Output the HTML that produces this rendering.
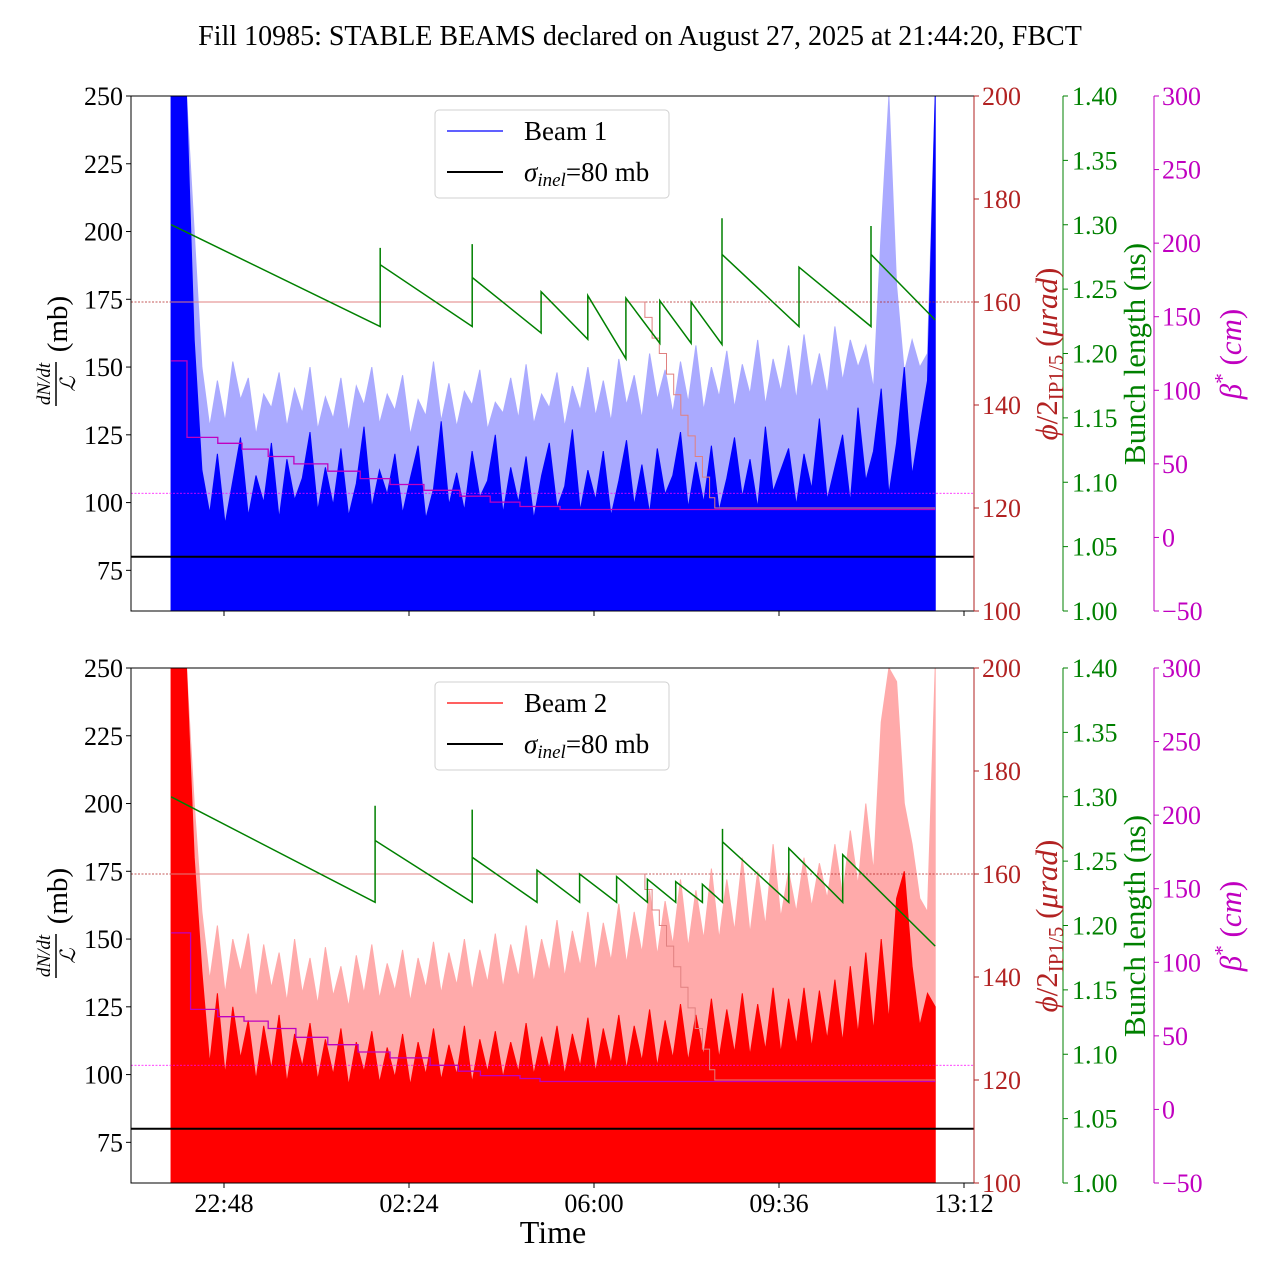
<!DOCTYPE html>
<html><head><meta charset="utf-8"><style>
html,body{margin:0;padding:0;background:#fff;}
svg{display:block;font-family:"Liberation Serif",serif;}
</style></head><body>
<svg id="chart" width="1280" height="1280" xmlns="http://www.w3.org/2000/svg">
<text x="640" y="45" text-anchor="middle" font-size="28">Fill 10985: STABLE BEAMS declared on August 27, 2025 at 21:44:20, FBCT</text>
<text x="553" y="1243" text-anchor="middle" font-size="32">Time</text>
</svg>
<script>
// ---- data ----
const tStart = 21.77, tEnd = 36.64;             // hours (past midnight of Aug 27)
const xTickLabels = ["22:48","02:24","06:00","09:36","13:12"];
const xTickHours = [22.8, 26.4, 30.0, 33.6, 37.2];
const leftTicks = [75,100,125,150,175,200,225,250];
const redTicks = [100,120,140,160,180,200];
const greenTicks = [1.00,1.05,1.10,1.15,1.20,1.25,1.30,1.35,1.40];
const magTicks = [-50,0,50,100,150,200,250,300];

const beam1Dark = [250,250,250,160,112,96,118,92,108,124,95,110,100,122,94,116,101,109,126,97,
 113,99,120,95,107,128,98,112,103,118,96,109,121,94,105,130,99,111,97,119,
 102,108,125,96,113,100,117,94,110,122,98,106,127,97,112,101,119,95,108,123,
 99,114,96,120,103,110,126,98,115,100,121,97,109,124,102,116,98,128,104,112,
 120,99,118,105,131,101,113,125,100,135,108,119,142,103,122,150,110,128,145,250];
const beam1Light = [250,250,250,200,150,128,145,130,152,138,146,125,140,135,148,128,142,133,150,127,
 139,131,146,126,143,136,150,129,140,134,147,125,138,132,152,130,144,128,141,136,
 149,127,137,133,146,131,151,129,140,135,148,128,143,134,150,132,145,130,153,136,
 147,131,155,138,149,133,152,137,158,134,150,139,156,135,151,140,160,136,153,141,
 158,138,162,142,155,140,165,145,160,150,158,142,200,250,180,148,160,150,155,250];
const beam2Dark = [250,250,250,180,138,104,130,100,125,106,120,98,118,102,122,97,115,103,119,98,
 113,100,117,96,112,101,116,97,110,99,115,96,112,100,117,98,111,100,118,97,
 113,101,116,99,112,101,119,100,114,102,118,100,115,103,121,101,117,104,122,102,
 118,105,124,103,120,106,126,105,122,107,128,106,124,108,130,107,126,109,132,108,
 128,111,132,110,131,113,135,112,140,115,145,116,150,120,165,175,140,118,130,125];
const beam2Light = [250,250,250,200,160,135,155,130,150,138,152,128,148,132,145,127,150,130,143,126,
 147,129,140,125,144,130,148,128,141,131,146,127,143,132,149,130,145,133,150,131,
 146,134,152,132,148,136,155,134,150,138,157,136,153,140,160,138,156,142,163,141,
 160,145,168,144,164,148,172,147,168,150,176,150,172,153,180,152,175,155,185,158,
 175,160,180,162,178,165,185,166,190,170,200,175,230,250,245,200,185,165,160,250];

// bunch length sawtooth: [time, value] vertices
const bl1Times = [21.77,25.84,25.84,25.84,27.63,27.63,27.63,28.97,28.97,29.88,29.88,30.62,30.62,31.28,31.28,31.89,31.89,32.49,32.49,32.49,33.99,33.99,35.39,35.39,35.39,36.64];
const bl1Vals  = [1.300,1.221,1.282,1.269,1.221,1.285,1.259,1.216,1.248,1.211,1.245,1.196,1.243,1.208,1.241,1.208,1.240,1.207,1.305,1.277,1.221,1.267,1.221,1.299,1.277,1.226];
const bl2Times = [21.77,25.74,25.74,25.74,27.63,27.63,27.63,28.89,28.89,29.72,29.72,30.44,30.44,31.04,31.04,31.59,31.59,32.11,32.11,32.50,32.50,32.50,33.79,33.79,34.84,34.84,36.64];
const bl2Vals  = [1.300,1.218,1.293,1.266,1.218,1.290,1.253,1.218,1.243,1.218,1.240,1.218,1.238,1.218,1.236,1.218,1.234,1.218,1.232,1.218,1.275,1.265,1.218,1.260,1.218,1.255,1.184];

// beta* steps (cm)
const beta1Times = [21.77,22.08,22.68,23.15,23.66,24.16,24.82,25.45,26.03,26.69,27.39,27.98,28.56,29.34];
const beta1Vals  = [120,68,64,60,55,50,45,40,36,32,28,24,21,19];
const beta2Times = [21.77,22.15,22.68,23.19,23.66,24.20,24.82,25.41,26.03,26.81,27.36,27.79,28.56,28.95];
const beta2Vals  = [120,68,63,60,55,49,44,39,35,30,26,23,21,19];
// crossing angle steps (urad)
const phiTimes = [21.77,30.99,31.13,31.27,31.41,31.55,31.69,31.83,31.97,32.11,32.25,32.35];
const phiVals  = [160,157,153,150,146,142,138,134,130,126,122,120];
const phiRef = 160, betaRef = 30, sigmaInel = 80;

// ---- drawing ----
const NS = "http://www.w3.org/2000/svg";
const svg = document.getElementById("chart");
const X0 = 131, X1 = 974;
const FS = 26;
function xs(h){ return 224 + (h - 22.8) * 185 / 3.6; }
function mk(tag, attrs, parent){ const e = document.createElementNS(NS, tag); for (const k in attrs) e.setAttribute(k, attrs[k]); (parent||svg).appendChild(e); return e; }

function drawPanel(top, dark, light, darkCol, lightCol, bl, blT, betaT, betaV, legendLabel, idx){
  const bot = top + 515;
  const yL = v => bot - (v - 60) * 515 / 190;
  const yR = v => bot - (v - 100) * 515 / 100;
  const yG = v => bot - (v - 1.0) * 515 / 0.4;
  const yM = v => bot - (v + 50) * 515 / 350;
  const g = mk("g", {});
  
  
  const cp = mk("clipPath", {id: "clip" + idx}, g);
  mk("rect", {x: X0, y: top, width: X1 - X0, height: 515}, cp);
  const plot = mk("g", {"clip-path": "url(#clip" + idx + ")"}, g);
  const n = dark.length, step = (tEnd - tStart) / (n - 1);
  function area(arr, col, name){
    let d = "M" + xs(tStart) + "," + bot;
    arr.forEach((v, i) => { d += " L" + xs(tStart + i * step).toFixed(1) + "," + yL(v).toFixed(1); });
    d += " L" + xs(tEnd) + "," + bot + " Z";
    const p = mk("path", {d: d, fill: col, stroke: col, "stroke-width": 1}, plot);
    
    
  }
  area(light, lightCol, 'beam-' + idx + '-raw-area');
  area(dark, darkCol, 'beam-' + idx + '-smoothed-area');
  const pr = mk("line", {x1: X0, x2: X1, y1: yR(phiRef), y2: yR(phiRef), stroke: "#b22222", "stroke-width": 0.8, "stroke-dasharray": "2,1.5"}, plot);
  
  
  const br = mk("line", {x1: X0, x2: X1, y1: yM(betaRef), y2: yM(betaRef), stroke: "#ff00ff", "stroke-width": 0.8, "stroke-dasharray": "2,1.5"}, plot);
  
  
  function steps(ts, vs, yf, col, name, w){
    let d = "";
    ts.forEach((t, i) => {
      const x = xs(t).toFixed(1), y = yf(vs[i]).toFixed(1);
      d += (i === 0 ? "M" + x + "," + y : " L" + x + "," + yf(vs[i-1]).toFixed(1) + " L" + x + "," + y);
    });
    d += " L" + xs(tEnd).toFixed(1) + "," + yf(vs[vs.length-1]).toFixed(1);
    const p = mk("path", {d: d, fill: "none", stroke: col, "stroke-width": w}, plot);
    
    
  }
  steps(phiTimes, phiVals, yR, "#e08080", 'crossing-angle-line', 1);
  steps(betaT, betaV, yM, "#c000c0", 'beta-star-line', 1.3);
  let d = "";
  blT.forEach((t, i) => { d += (i ? " L" : "M") + xs(t).toFixed(1) + "," + yG(bl[i]).toFixed(1); });
  const gl = mk("path", {d: d, fill: "none", stroke: "#008000", "stroke-width": 1.5}, plot);
  
  
  const sl = mk("line", {x1: X0, x2: X1, y1: yL(sigmaInel), y2: yL(sigmaInel), stroke: "#000", "stroke-width": 2}, plot);
  
  
  const fr = mk("rect", {x: X0, y: top, width: X1 - X0, height: 515, fill: "none", stroke: "#000", "stroke-width": 1}, g);
  
  
  leftTicks.forEach(v => {
    const y = yL(v);
    mk("line", {x1: X0 - 5, x2: X0, y1: y, y2: y, stroke: "#000"}, g);
    const t = mk("text", {x: X0 - 8, y: y + 9, "text-anchor": "end", "font-size": FS}, g);
    t.textContent = v;
    
    
  });
  mk("line", {x1: 1063, x2: 1063, y1: top, y2: bot, stroke: "#008000"}, g);
  mk("line", {x1: 1154, x2: 1154, y1: top, y2: bot, stroke: "#c000c0"}, g);
  mk("line", {x1: X1, x2: X1, y1: top, y2: bot, stroke: "#b22222"}, g);
  redTicks.forEach(v => {
    const y = yR(v);
    mk("line", {x1: X1, x2: X1 + 5, y1: y, y2: y, stroke: "#b22222"}, g);
    const t = mk("text", {x: X1 + 8, y: y + 9, "font-size": FS, fill: "#b22222"}, g);
    t.textContent = v;
    
    
  });
  greenTicks.forEach(v => {
    const y = yG(v);
    mk("line", {x1: 1063, x2: 1068, y1: y, y2: y, stroke: "#008000"}, g);
    const t = mk("text", {x: 1072, y: y + 9, "font-size": FS, fill: "#008000"}, g);
    t.textContent = v.toFixed(2);
    
    
  });
  magTicks.forEach(v => {
    const y = yM(v);
    mk("line", {x1: 1154, x2: 1159, y1: y, y2: y, stroke: "#c000c0"}, g);
    const t = mk("text", {x: 1162, y: y + 9, "font-size": FS, fill: "#c000c0"}, g);
    t.textContent = (v < 0 ? "\u2212" + (-v) : v);
    
    
  });
  xTickHours.forEach((h, i) => {
    const x = xs(h);
    mk("line", {x1: x, x2: x, y1: bot, y2: bot + 5, stroke: "#000"}, g);
    if (idx === 2) {
      const t = mk("text", {x: x, y: bot + 29, "text-anchor": "middle", "font-size": FS}, g);
      t.textContent = xTickLabels[i];
      
      
    }
  });
  const cy = top + 258;
  const ly = mk("g", {transform: "translate(58," + cy + ") rotate(-90)"}, g);
  
  
  const t1 = mk("text", {x: -30, y: -8, "text-anchor": "middle", "font-size": 19, "font-style": "italic"}, ly); t1.textContent = "dN/dt";
  mk("line", {x1: -52, x2: -8, y1: -2, y2: -2, stroke: "#000", "stroke-width": 1.5}, ly);
  const t2 = mk("text", {x: -30, y: 17, "text-anchor": "middle", "font-size": 21, "font-style": "italic"}, ly); t2.textContent = "\u2112";
  const t3 = mk("text", {x: 30, y: 9, "text-anchor": "middle", "font-size": 29}, ly); t3.textContent = "(mb)";
  const rl = mk("text", {transform: "translate(1057," + cy + ") rotate(-90)", "text-anchor": "middle", "font-size": 31, fill: "#b22222"}, g);
  rl.innerHTML = '<tspan font-style="italic">ϕ</tspan>/2<tspan font-size="21" dy="6">IP1/5</tspan><tspan dy="-6"> (</tspan><tspan font-style="italic">μrad</tspan>)';
  
  
  const gtl = mk("text", {transform: "translate(1145," + cy + ") rotate(-90)", "text-anchor": "middle", "font-size": 31, fill: "#008000"}, g);
  gtl.textContent = "Bunch length (ns)";
  
  
  const ml = mk("text", {transform: "translate(1241," + cy + ") rotate(-90)", "text-anchor": "middle", "font-size": 31, fill: "#c000c0"}, g);
  ml.innerHTML = '<tspan font-style="italic">β</tspan><tspan dy="-12" font-size="21">*</tspan><tspan dy="12"> (</tspan><tspan font-style="italic">cm</tspan>)';
  
  
  const lg = mk("g", {}, g);
  
  
  mk("rect", {x: 435, y: top + 14, width: 234, height: 88, rx: 4, fill: "#fff", "fill-opacity": 0.8, stroke: "#d0d0d0"}, lg);
  mk("line", {x1: 447, x2: 503, y1: top + 35, y2: top + 35, stroke: darkCol, "stroke-width": 1.2}, lg);
  const le1 = mk("text", {x: 524, y: top + 44, "font-size": 27}, lg); le1.textContent = legendLabel;
  
  
  mk("line", {x1: 447, x2: 503, y1: top + 76, y2: top + 76, stroke: "#000", "stroke-width": 2}, lg);
  const le2 = mk("text", {x: 524, y: top + 85, "font-size": 27}, lg);
  le2.innerHTML = '<tspan font-style="italic">σ</tspan><tspan font-style="italic" font-size="19" dy="5">inel</tspan><tspan dy="-5">=80 mb</tspan>';
  
  
}
drawPanel(96, beam1Dark, beam1Light, "#0000ff", "#aaaaff", bl1Vals, bl1Times, beta1Times, beta1Vals, "Beam 1", 1);
drawPanel(668, beam2Dark, beam2Light, "#ff0000", "#ffaaaa", bl2Vals, bl2Times, beta2Times, beta2Vals, "Beam 2", 2);
</script>
</body></html>
